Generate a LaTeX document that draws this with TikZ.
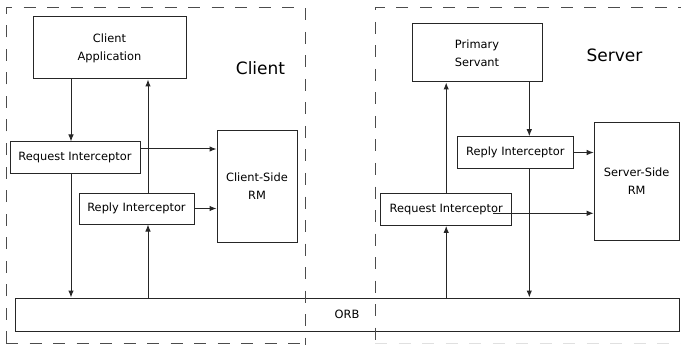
\documentclass[tikz,border=0pt]{standalone}
\usepackage{fontspec}
\setmainfont{DejaVu Sans}
\usepackage{tikz}
\usetikzlibrary{arrows.meta,positioning}

\begin{document}
\begin{tikzpicture}[
  x=1pt, y=-1pt,
  block/.style={draw=black!85, line width=1pt, align=center, inner sep=0pt,
                font=\fontsize{11.4}{18}\selectfont},
  side/.style={font=\fontsize{17}{20}\selectfont},
  arrow/.style={-{Latex[length=7pt,width=5.5pt]}, line width=1pt, draw=black!85},
  region/.style={line width=1pt, dash pattern=on 12pt off 11.5pt}
]
  \useasboundingbox (0,0) rectangle (681,345);

  % client side
  \node[block, minimum width=153pt, minimum height=62pt] (app) at (109.5,48)
    {Client\\Application};
  \node[side] (clientlbl) at (260.5,68) {Client};
  \node[block, minimum width=130pt, minimum height=31pt] (reqc) at (75,157.5)
    {Request Interceptor};
  \node[block, minimum width=115pt, minimum height=31pt] (repc) at (136.5,208.5)
    {Reply Interceptor};
  \node[block, minimum width=80pt, minimum height=111pt] (rmc) at (257,186.5)
    {Client-Side\\RM};

  % server side
  \node[block, minimum width=130pt, minimum height=58pt] (servant) at (477,53)
    {Primary\\Servant};
  \node[side] (serverlbl) at (614.5,55) {Server};
  \node[block, minimum width=116pt, minimum height=31.5pt] (reps) at (515.3,152.5)
    {Reply Interceptor};
  \node[block, minimum width=131pt, minimum height=31.5pt] (reqs) at (446.2,209.7)
    {Request Interceptor};
  \node[block, minimum width=85pt, minimum height=118pt] (rms) at (636.7,181.5)
    {Server-Side\\RM};

  \node[block, minimum width=664pt, minimum height=33pt] (orb) at (347,314.5) {ORB};

  \draw[arrow] ([xshift=-4pt]reqc.north |- app.south) -- ([xshift=-4pt]reqc.north);
  \draw[arrow] ([xshift=11.5pt]repc.north) -- ([xshift=11.5pt]repc.north |- app.south);
  \draw[arrow] ([yshift=8.5pt]reqc.east) -- ([yshift=8.5pt]reqc.east -| rmc.west);
  \draw[arrow] (repc.east) -- (repc.east -| rmc.west);
  \draw[arrow] ([xshift=-4pt]reqc.south) -- ([xshift=-4pt]reqc.south |- orb.north);
  \draw[arrow] ([xshift=11.5pt]repc.south |- orb.north) -- ([xshift=11.5pt]repc.south);

  \draw[arrow] ([xshift=14pt]reps.north |- servant.south) -- ([xshift=14pt]reps.north);
  \draw[arrow] (reqs.north) -- (reqs.north |- servant.south);
  \draw[arrow] (reps.east) -- (reps.east -| rms.west);
  \draw[arrow] ([xshift=-19pt,yshift=-3.6pt]reqs.east) -- ([yshift=-3.6pt]reqs.east -| rms.west);
  \draw[arrow] (reqs.south |- orb.north) -- (reqs.south);
  \draw[arrow] ([xshift=14pt]reps.south) -- ([xshift=14pt]reps.south |- orb.north);

  % dashed regions
  \draw[region, draw=black!70] (6,343) -- (6,8) -- (305,8) -- (305,345);
  \draw[region, draw=black!70] (6,343) -- (305,343);
  \draw[region, draw=black!70] (690,8) -- (375,8) -- (375,345);
  \draw[region, draw=black!12] (375,343) -- (690,343);
\end{tikzpicture}
\end{document}
